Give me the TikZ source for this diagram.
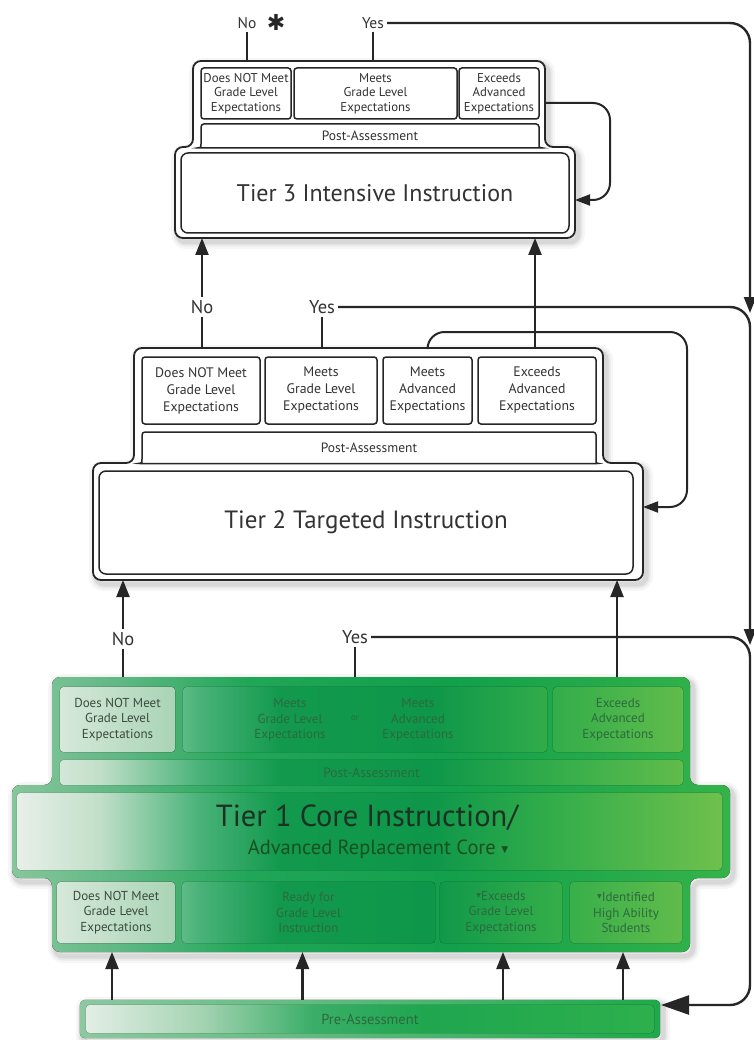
\documentclass[tikz,border=0pt]{standalone}
\usepackage{fontspec}
\setmainfont{PT Sans}
\newfontfamily\symfont{DejaVu Sans}
\usetikzlibrary{arrows.meta}
\pgfdeclarelayer{back}
\pgfdeclarelayer{bg}
\pgfsetlayers{back,bg,main}
\newcommand\myfs[2]{\fontsize{#1}{#2}\selectfont}
\newcommand\mytri{{\symfont\fontsize{6}{6}\selectfont\raisebox{3pt}{▼}}}
\definecolor{ink}{HTML}{262626}
\definecolor{txt}{HTML}{333333}
\definecolor{gtxt}{HTML}{2C6A3D}
\definecolor{gdark}{HTML}{1C3222}
\definecolor{gnot}{HTML}{3A4A3F}
\definecolor{gnotL}{HTML}{D6E8DA}
\definecolor{gnotR}{HTML}{A9D4B5}
\definecolor{gi0}{HTML}{E8F0EA}
\definecolor{gi1}{HTML}{C2DFC9}
\definecolor{gi2}{HTML}{48B278}
\definecolor{gi3}{HTML}{12994D}
\definecolor{gi4}{HTML}{0E974A}
\definecolor{gi5}{HTML}{35AE4A}
\definecolor{gi6}{HTML}{6EC04C}
\pgfdeclarehorizontalshading{ginner}{100bp}{color(0bp)=(gi0); color(26bp)=(gi0); color(31.6bp)=(gi1); color(38.3bp)=(gi2); color(43.6bp)=(gi3); color(53.6bp)=(gi4); color(62.2bp)=(gi5); color(72.8bp)=(gi6); color(100bp)=(gi6)}
\definecolor{gf0}{HTML}{86C69A}
\definecolor{gf1}{HTML}{5FB884}
\definecolor{gf2}{HTML}{20A657}
\definecolor{gf3}{HTML}{12A04B}
\definecolor{gf4}{HTML}{35B34A}
\pgfdeclarehorizontalshading{gframe}{100bp}{color(0bp)=(gf0); color(25.8bp)=(gf0); color(33bp)=(gf1); color(41.6bp)=(gf2); color(54.9bp)=(gf3); color(73.5bp)=(gf4); color(100bp)=(gf4)}
\definecolor{gp0}{HTML}{E2EEE5}
\definecolor{gp1}{HTML}{A6D4B3}
\definecolor{gp2}{HTML}{3AAE68}
\definecolor{gp3}{HTML}{1FA64F}
\definecolor{gp4}{HTML}{2DB04C}
\pgfdeclarehorizontalshading{gpre}{100bp}{color(0bp)=(gp0); color(25bp)=(gp0); color(35bp)=(gp1); color(45bp)=(gp2); color(55bp)=(gp3); color(75bp)=(gp4); color(100bp)=(gp4)}
\definecolor{gpf0}{HTML}{8CC8A0}
\definecolor{gpf1}{HTML}{1EA84B}
\begin{document}
\begin{tikzpicture}[x=1pt, y=-1pt,
  softshadow/.style={
    preaction={draw=black, opacity=0.035, line width=14pt, transform canvas={shift={(3pt,-4pt)}}},
    preaction={draw=black, opacity=0.05, line width=9pt, transform canvas={shift={(3pt,-4pt)}}},
    preaction={draw=black, opacity=0.07, line width=5pt, transform canvas={shift={(3pt,-4pt)}}}},
  frame/.style={softshadow, draw=ink, line width=1.8pt, fill=white, rounded corners=8pt},
  wcat/.style={draw=ink, line width=1.5pt, fill=white, rounded corners=3pt, align=center, inner sep=0pt, text=txt},
  wpost/.style={draw=ink, line width=1.5pt, fill=white, rounded corners=3pt},
  wmain/.style={draw=ink, line width=1.5pt, fill=white, rounded corners=7pt, inner sep=0pt, text=txt},
  gbox/.style={inner sep=0pt, align=center, text=gtxt},
  lbl/.style={inner sep=3pt, text=txt},
  stub/.style={draw=ink, line width=2.4pt},
  conn/.style={draw=ink, line width=2.4pt, -{Triangle[length=17pt,width=13pt]}},
  bigconn/.style={draw=ink, line width=2.4pt, rounded corners=20pt, -{Triangle[length=28pt,width=19pt]}},
  loopc/.style={draw=ink, line width=2pt, rounded corners=17pt, -{Triangle[length=15pt,width=11pt]}},
  edge/.style={draw=ink, line width=2.4pt, rounded corners=20pt, -{Triangle[length=16pt,width=12pt]}}
]
\useasboundingbox (0,0) rectangle (753,1040);
\begin{pgfonlayer}{back}
\fill[white] (0,0) rectangle (753,1040);
\end{pgfonlayer}

% ================= Tier 3 =================
\draw[frame] (369,61) -- (545,61) -- (545,147) -- (575,147) -- (575,238) -- (175,238) -- (175,147) -- (193,147) -- (193,61) -- cycle;
\coordinate (t3top) at (0,61);
\coordinate (t3bot) at (0,238);
\coordinate (t3loopS) at (545,103);
\coordinate (t3loopE) at (575,200);
\node[wcat, minimum width=90, minimum height=51, font=\myfs{12.8}{14.5}] (t3a) at (246,93.5) {Does NOT Meet\\Grade Level\\Expectations};
\node[wcat, minimum width=163, minimum height=51, font=\myfs{12.8}{14.5}] (t3b) at (375.5,93.5) {Meets\\Grade Level\\Expectations};
\node[wcat, minimum width=80, minimum height=51, font=\myfs{12.8}{14.5}] (t3c) at (499,93.5) {Exceeds\\Advanced\\Expectations};
\draw[wpost] (196,148) .. controls (201,147.5) .. (201,141) -- (201,124) -- (539,124) -- (539,141) .. controls (539,147.5) .. (544,148) -- cycle;
\node[lbl, font=\myfs{13.5}{15}] (t3post) at (370,136) {Post-Assessment};
\node[wmain, minimum width=388, minimum height=80, font=\myfs{24}{28}] (t3main) at (375,193) {Tier 3 Intensive Instruction};
\node[lbl, font=\myfs{15.5}{18}] (t3no) at (247,23) {No};
\node[inner sep=0pt, text=ink, font=\symfont\myfs{22}{22}] (t3star) at (276,22) {✱};
\node[lbl, font=\myfs{15.5}{18}] (t3yes) at (373,23) {Yes};
\draw[stub] (t3no.south) -- (t3no.south |- t3top);
\draw[stub] (t3yes.south) -- (t3yes.south |- t3top);
\draw[loopc] (t3loopS) -- (610,103) -- (610,200) -- (t3loopE);

% ================= Tier 2 =================
\draw[frame] (368,348) -- (603,348) -- (603,463) -- (643,463) -- (643,580) -- (93,580) -- (93,463) -- (134,463) -- (134,348) -- cycle;
\coordinate (t2top) at (0,348);
\coordinate (t2bot) at (0,580);
\coordinate (t2loopE) at (643,507);
\node[wcat, minimum width=118, minimum height=67, font=\myfs{13.8}{17}] (t2a) at (201,390.5) {Does NOT Meet\\Grade Level\\Expectations};
\node[wcat, minimum width=112, minimum height=67, font=\myfs{13.8}{17}] (t2b) at (321,390.5) {Meets\\Grade Level\\Expectations};
\node[wcat, minimum width=89, minimum height=67, font=\myfs{13.8}{17}] (t2c) at (427.5,390.5) {Meets\\Advanced\\Expectations};
\node[wcat, minimum width=118, minimum height=67, font=\myfs{13.8}{17}] (t2d) at (537,390.5) {Exceeds\\Advanced\\Expectations};
\draw[wpost] (137,463.5) .. controls (142,463) .. (142,456) -- (142,432) -- (596,432) -- (596,456) .. controls (596,463) .. (600,463.5) -- cycle;
\node[lbl, font=\myfs{13.5}{15}] (t2post) at (369,447.5) {Post-Assessment};
\node[wmain, minimum width=534, minimum height=103, font=\myfs{25}{30}] (t2main) at (366,522.5) {Tier 2 Targeted Instruction};
\node[lbl, font=\myfs{18.5}{21}] (t2no) at (202,307) {No};
\node[lbl, font=\myfs{18.5}{21}] (t2yes) at (322,307) {Yes};
\draw[stub] (t2no.south) -- (t2no.south |- t2top);
\draw[stub] (t2yes.south) -- (t2yes.south |- t2top);
\draw[conn] (t2no.north) -- (t2no.north |- t3bot);
\draw[conn] ([xshift=-2pt]t2d.north |- t2top) -- ([xshift=-2pt]t2d.north |- t3bot);
\draw[loopc] (t2c.north |- t2top) -- (t2c.north |- 0,332) -- (687,332) -- (687,507) -- (t2loopE);

% ================= Tier 1 (green) =================
\coordinate (t1top) at (0,677);
\coordinate (t1bot) at (0,952);
\node[gbox, minimum width=115, minimum height=65, text=gnot, font=\myfs{13}{15.5}] (t1a) at (117.5,719.5) {Does NOT Meet\\Grade Level\\Expectations};
\node[gbox, minimum width=364, minimum height=65] (t1b) at (365,719.5) {};
\node[gbox, font=\myfs{13}{15.5}] (t1b1) at (290,720) {Meets\\Grade Level\\Expectations};
\node[gbox, font=\myfs{9}{10}] (t1or) at (355,718) {or};
\node[gbox, font=\myfs{13}{15.5}] (t1b2) at (418,720) {Meets\\Advanced\\Expectations};
\node[gbox, minimum width=130, minimum height=65, font=\myfs{13}{15.5}] (t1c) at (618,719.5) {Exceeds\\Advanced\\Expectations};
\node[gbox, minimum width=623, minimum height=25, font=\myfs{13.5}{15}] (t1post) at (371.5,772.5) {Post-Assessment};
\node[gbox, minimum width=705, minimum height=77] (t1main) at (369.5,831.5) {};
\node[gbox, text=gdark, font=\myfs{30.5}{33}] (t1title) at (367,818) {Tier 1 Core Instruction/};
\node[gbox, text=gdark!85!green, font=\myfs{20.5}{23}] (t1sub) at (378,849) {Advanced Replacement Core {\symfont\fontsize{9}{9}\selectfont\raisebox{2pt}{▼}}};
\node[gbox, minimum width=118, minimum height=61, text=gnot, font=\myfs{13}{15.5}] (t1ba) at (116,912.5) {Does NOT Meet\\Grade Level\\Expectations};
\node[gbox, minimum width=253, minimum height=61, font=\myfs{13}{15.5}] (t1bb) at (308.5,912.5) {Ready for\\Grade Level\\Instruction};
\node[gbox, minimum width=122, minimum height=61, font=\myfs{13}{15.5}] (t1bc) at (501,912.5) {\mytri Exceeds\\Grade Level\\Expectations};
\node[gbox, minimum width=112, minimum height=61, font=\myfs{13}{15.5}] (t1bd) at (626,912.5) {\mytri Identified\\High Ability\\Students};
\node[gbox, minimum width=580, minimum height=38, font=\myfs{14.5}{16}] (pre) at (370,1019) {Pre-Assessment};
\coordinate (preIn) at (661,1005);

\begin{pgfonlayer}{bg}
  \path[softshadow, rounded corners=8pt] (371,677) -- (690,677) -- (690,785) -- (730,785) -- (730,878) -- (690,878) -- (690,952) -- (52,952) -- (52,878) -- (12,878) -- (12,785) -- (52,785) -- (52,677) -- cycle;
  \path[softshadow, rounded corners=5pt] (pre.north west) rectangle (pre.south east);
  \begin{scope}
    \clip[rounded corners=8pt] (371,677) -- (690,677) -- (690,785) -- (730,785) -- (730,878) -- (690,878) -- (690,952) -- (52,952) -- (52,878) -- (12,878) -- (12,785) -- (52,785) -- (52,677) -- cycle;
    \fill[shading=gframe] (0,0) rectangle (753,1040);
  \end{scope}
  \begin{scope}
    \clip[rounded corners=4pt] (t1a.north west) rectangle (t1a.south east)
      (t1b.north west) rectangle (t1b.south east)
      (t1c.north west) rectangle (t1c.south east)
      (t1post.north west) rectangle (t1post.south east)
      (t1main.north west) rectangle (t1main.south east)
      (t1ba.north west) rectangle (t1ba.south east)
      (t1bb.north west) rectangle (t1bb.south east)
      (t1bc.north west) rectangle (t1bc.south east)
      (t1bd.north west) rectangle (t1bd.south east);
    \fill[shading=ginner] (0,0) rectangle (753,1040);
  \end{scope}
  \fill[rounded corners=4pt, left color=gnotL, right color=gnotR] (t1a.north west) rectangle (t1a.south east);
  \fill[rounded corners=4pt, left color=gnotL, right color=gnotR] (t1ba.north west) rectangle (t1ba.south east);
  \fill[rounded corners=5pt, left color=gpf0, right color=gpf1] (pre.north west) rectangle (pre.south east);
  \fill[rounded corners=4pt, shading=gpre] ([shift={(6,5)}]pre.north west) rectangle ([shift={(-6,-5)}]pre.south east);
\end{pgfonlayer}

\node[lbl, font=\myfs{18.5}{21}] (t1no) at (123,639) {No};
\node[lbl, font=\myfs{18.5}{21}] (t1yes) at (355,637) {Yes};
\draw[stub] (t1no.south) -- (t1no.south |- t1top);
\draw[stub] (t1yes.south) -- (t1yes.south |- t1top);
\draw[conn] (t1no.north) -- (t1no.north |- t2bot);
\draw[conn] ([xshift=-1pt]t1c.north |- t1top) -- ([xshift=-1pt]t1c.north |- t2bot);

% Pre-assessment arrows
\draw[conn] ([xshift=-4pt]t1ba.south |- pre.north) -- ([xshift=-4pt]t1ba.south |- t1bot);
\draw[conn] ([xshift=-6pt]t1bb.south |- pre.north) -- ([xshift=-6pt]t1bb.south |- t1bot);
\draw[conn] ([xshift=2pt]t1bc.south |- pre.north) -- ([xshift=2pt]t1bc.south |- t1bot);
\draw[conn] ([xshift=-3pt]t1bd.south |- pre.north) -- ([xshift=-3pt]t1bd.south |- t1bot);

% Right edge "Yes" paths
\draw[edge] (t3yes.east) -- (750,23) -- (750,313);
\draw[edge] (t2yes.east) -- (750,307) -- (750,645);
\draw[bigconn] (t1yes.east) -- (750,637) -- (750,1005) -- (preIn);
\end{tikzpicture}
\end{document}
